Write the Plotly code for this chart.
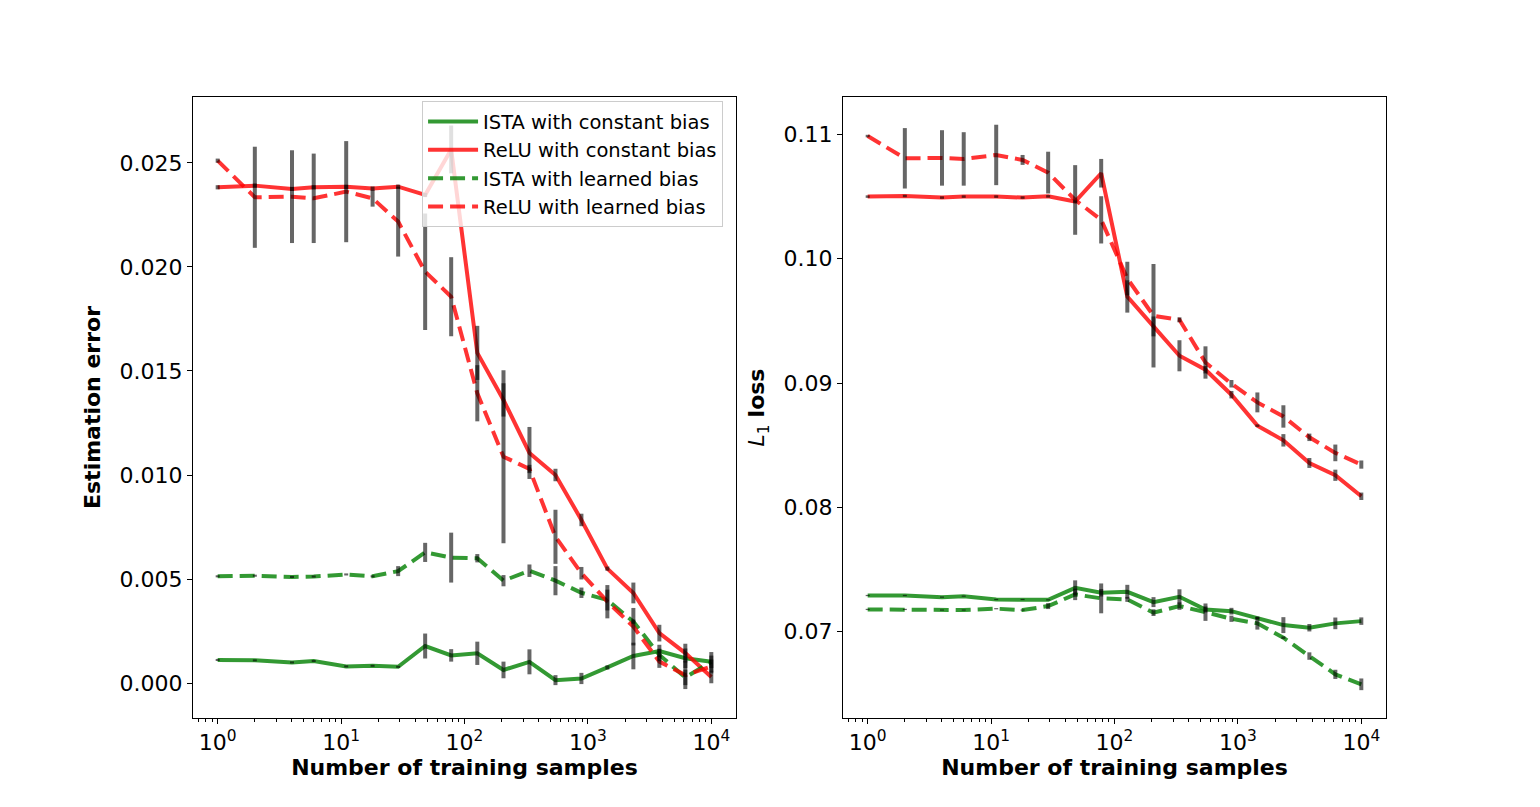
import plotly.graph_objects as go
from plotly.subplots import make_subplots

n_samples = [1, 2, 4, 6, 11, 18, 29, 48, 78, 127, 207, 336, 546, 886, 1438, 2336, 3793, 6158, 10000]

# estimation error (left panel)
err_ista_const = [0.00111, 0.00109, 0.00099, 0.00106, 0.0008, 0.00083, 0.00078, 0.00178, 0.00133, 0.00143,
                  0.00063, 0.00102, 0.00014, 0.00022, 0.00075, 0.0013, 0.00154, 0.00119, 0.00102]
err_relu_const = [0.02383, 0.02391, 0.02375, 0.02383, 0.02385, 0.02377, 0.02386, 0.02346, 0.02565, 0.01587,
                  0.01361, 0.01106, 0.0100, 0.00784, 0.00550, 0.00433, 0.0024, 0.00144, 0.00029]
err_ista_learn = [0.00513, 0.00516, 0.0051, 0.00512, 0.00522, 0.00513, 0.00538, 0.00628, 0.00603, 0.0060,
                  0.00492, 0.0054, 0.00492, 0.00434, 0.00399, 0.00295, 0.00135, 0.00027, 0.00102]
err_relu_learn = [0.02511, 0.02335, 0.02338, 0.0233, 0.02362, 0.0233, 0.02218, 0.01977, 0.01857, 0.01393,
                  0.01088, 0.01029, 0.00703, 0.00528, 0.00391, 0.00271, 0.00103, 0.00038, 0.0008]

# L1 loss (right panel)
l1_ista_const = [0.07291, 0.07291, 0.07278, 0.07286, 0.07259, 0.07259, 0.07256, 0.07353, 0.07313, 0.07321,
                 0.07238, 0.07281, 0.07179, 0.07165, 0.07112, 0.07053, 0.07032, 0.07067, 0.07085]
l1_relu_const = [0.10499, 0.10504, 0.10491, 0.10499, 0.10499, 0.10491, 0.10501, 0.10459, 0.10687, 0.09696,
                 0.09455, 0.09219, 0.09107, 0.08906, 0.08657, 0.08539, 0.08357, 0.08258, 0.08089]
l1_ista_learn = [0.07179, 0.07179, 0.07174, 0.07174, 0.07185, 0.07174, 0.07206, 0.0730, 0.07268, 0.0726,
                 0.07153, 0.07206, 0.07157, 0.07104, 0.07067, 0.06952, 0.06804, 0.06657, 0.06577]
l1_relu_learn = [0.10986, 0.10807, 0.1081, 0.10802, 0.10834, 0.10794, 0.10692, 0.10472, 0.10312, 0.0984,
                 0.09541, 0.09508, 0.09165, 0.08994, 0.08844, 0.08731, 0.08563, 0.08438, 0.08344]

# std (same bars appear in both panels)
std_ista_const = [0.00005, 0.00005, 0.00005, 0.00005, 0.00005, 0.00005, 0.00005, 0.0006, 0.0003, 0.00056,
                  0.0004, 0.0006, 0.00024, 0.00027, 0.0001, 0.00064, 0.0003, 0.00047, 0.0003]
std_relu_const = [0.0001, 0.0001, 0.0001, 0.0001, 0.0001, 0.0001, 0.0001, 0.0001, 0.00115, 0.0013,
                  0.0008, 0.00125, 0.0003, 0.0003, 0.0001, 0.0005, 0.0004, 0.00045, 0.0003]
std_ista_learn = [0.00005, 0.00005, 0.00005, 0.00005, 0.00005, 0.00005, 0.00024, 0.00046, 0.0012, 0.0002,
                  0.00027, 0.0003, 0.0007, 0.00025, 0.0005, 0.0001, 0.0003, 0.00037, 0.00047]
std_relu_learn = [0.0001, 0.00243, 0.00223, 0.00215, 0.00243, 0.0004, 0.00168, 0.0028, 0.0019, 0.00135,
                  0.00416, 0.0002, 0.0013, 0.0003, 0.0008, 0.0009, 0.0003, 0.00067, 0.00033]

names = ["ISTA with constant bias", "ReLU with constant bias", "ISTA with learned bias", "ReLU with learned bias"]
colors = ["rgba(0,128,0,0.8)", "rgba(255,0,0,0.8)", "rgba(0,128,0,0.8)", "rgba(255,0,0,0.8)"]
dashes = ["solid", "solid", "15px,7px", "15px,7px"]
left = [err_ista_const, err_relu_const, err_ista_learn, err_relu_learn]
right = [l1_ista_const, l1_relu_const, l1_ista_learn, l1_relu_learn]
stds = [std_ista_const, std_relu_const, std_ista_learn, std_relu_learn]

fig = make_subplots(rows=1, cols=2, horizontal_spacing=0.0897)

for col, series in [(1, left), (2, right)]:
    for i in range(4):
        fig.add_trace(go.Scatter(
            x=n_samples, y=series[i], mode="lines", name=names[i],
            line=dict(color=colors[i], width=4, dash=dashes[i]),
            showlegend=(col == 1),
        ), row=1, col=col)
    # error bars on top of lines
    for i in range(4):
        fig.add_trace(go.Scatter(
            x=n_samples, y=series[i], mode="markers",
            marker=dict(size=1, color="rgba(0,0,0,0)"),
            error_y=dict(type="data", array=stds[i], visible=True, color="rgba(0,0,0,0.6)",
                         thickness=4, width=0),
            showlegend=False, hoverinfo="skip",
        ), row=1, col=col)

minor_vals = [m * 10 ** e for e in range(0, 5) for m in range(2, 10)] + [0.7, 0.8, 0.9, 2e4, 3e4]
font = "DejaVu Sans, Arial, sans-serif"
axis_common = dict(showline=True, linecolor="black", linewidth=1, mirror=True, ticks="outside",
                   ticklen=5, tickcolor="black", showgrid=False, zeroline=False,
                   tickfont=dict(size=22, color="black", family=font))

for col in (1, 2):
    fig.update_xaxes(type="log", range=[-0.2, 4.2],
                     tickvals=[1, 10, 100, 1000, 10000],
                     ticktext=["10<sup>0</sup>", "10<sup>1</sup>", "10<sup>2</sup>", "10<sup>3</sup>", "10<sup>4</sup>"],
                     minor=dict(tickvals=minor_vals, ticks="outside", ticklen=3, tickcolor="black", showgrid=False),
                     title=dict(text="<b>Number of training samples</b>", font=dict(size=22, color="black", family=font),
                                standoff=4),
                     row=1, col=col, **axis_common)

fig.update_yaxes(range=[-0.00168, 0.02817], tickvals=[0, 0.005, 0.01, 0.015, 0.02, 0.025], tickformat=".3f",
                 title=dict(text="<b>Estimation error</b>", font=dict(size=22, color="black", family=font), standoff=12),
                 row=1, col=1, **axis_common)
fig.update_yaxes(range=[0.06306, 0.113], tickvals=[0.07, 0.08, 0.09, 0.10, 0.11], tickformat=".2f",
                 title=dict(text="<i>L</i><sub>1</sub> <b>loss</b>", font=dict(size=22, color="black", family=font),
                            standoff=12),
                 row=1, col=2, **axis_common)

fig.update_layout(
    width=1540, height=807,
    margin=dict(l=185, r=162, t=89, b=97),
    paper_bgcolor="white", plot_bgcolor="white",
    font=dict(family=font, color="black"),
    legend=dict(x=0.192, y=0.993, xanchor="left", yanchor="top", itemwidth=50,
                bgcolor="rgba(255,255,255,0.8)", bordercolor="#cccccc", borderwidth=1,
                font=dict(size=19.5, color="black", family=font), tracegroupgap=0),
)

fig.write_html("out.html")
